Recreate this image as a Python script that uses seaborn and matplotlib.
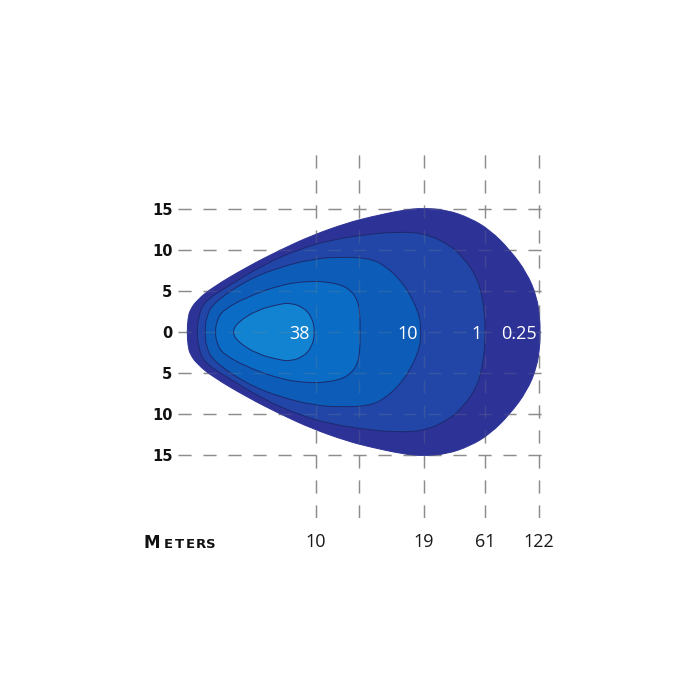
import matplotlib
matplotlib.use("Agg")
import matplotlib.pyplot as plt
from matplotlib.path import Path
from matplotlib.patches import PathPatch
import seaborn as sns

# beam contours, upper half only (the pattern is mirrored about y = 0)
# x / y, same unit on both axes
outer_x = [1.10, 1.22, 1.46, 2.32, 4.27, 8.41, 12.44, 16.46, 20.61, 23.41,
           27.44, 29.88, 32.80, 35.61, 38.05, 40.49, 42.56, 43.78, 44.15, 44.15]
outer_y = [0.0, 1.71, 2.68, 3.90, 5.49, 7.93, 10.0, 11.83, 13.29, 14.02,
           14.88, 15.12, 14.88, 13.90, 12.44, 10.0, 7.20, 4.27, 1.46, 0.0]

lux1_x = [2.32, 2.44, 3.05, 6.34, 10.37, 14.51, 18.54, 23.41, 26.71, 29.88,
          32.80, 34.76, 36.46, 37.20, 37.44, 37.44]
lux1_y = [0.0, 1.46, 3.66, 5.73, 8.17, 10.0, 11.22, 11.95, 12.20, 12.07,
          10.85, 9.15, 6.71, 3.90, 1.10, 0.0]

lux10_x = [3.29, 3.41, 4.27, 8.41, 12.44, 16.46, 19.39, 23.41, 25.49, 27.44,
           28.66, 29.51, 29.63]
lux10_y = [0.0, 1.71, 3.54, 6.34, 7.93, 8.90, 9.15, 9.02, 7.93, 5.98,
           3.90, 1.83, 0.0]

mid_x = [4.51, 4.76, 5.49, 8.41, 12.44, 15.73, 18.54, 20.61, 21.83, 22.20, 22.20]
mid_y = [0.0, 1.46, 2.68, 4.27, 5.73, 6.22, 6.10, 5.49, 4.15, 2.32, 0.0]

lux38_x = [6.59, 7.32, 9.63, 12.44, 13.66, 15.24, 16.34, 16.71]
lux38_y = [0.0, 1.22, 2.68, 3.41, 3.54, 3.05, 1.83, 0.0]

band_colors = ["#2d3296", "#2146a8", "#0c5cb8", "#0a6cc4", "#1283d0"]

zone_labels = ["38", "10", "1", "0.25"]
zone_label_x = [14.76, 28.05, 36.46, 41.59]

y_ticks = [15, 10, 5, 0, -5, -10, -15]
y_ticklabels = ["15", "10", "5", "0", "5", "10", "15"]
x_ticks = [16.83, 22.07, 30.0, 37.44, 44.02]
x_ticklabels = ["10", "", "19", "61", "122"]


def smooth_shape(xs, ys):
    # mirror the upper half, then run quadratic curves through the readings
    pts = list(zip(xs, ys)) + [(x, -y) for x, y in zip(xs[-2:0:-1], ys[-2:0:-1])]
    n = len(pts)
    mids = [((pts[i][0] + pts[(i + 1) % n][0]) / 2,
             (pts[i][1] + pts[(i + 1) % n][1]) / 2) for i in range(n)]
    verts = [mids[0]]
    codes = [Path.MOVETO]
    for i in range(1, n + 1):
        verts += [pts[i % n], mids[i % n]]
        codes += [Path.CURVE3, Path.CURVE3]
    return Path(verts, codes)


sns.set_style("white")
fig = plt.figure(figsize=(7, 7), dpi=100)
ax = fig.add_axes([178 / 700, 182 / 700, 374 / 700, 370 / 700])
ax.set_xlim(0, 45.61)
ax.set_ylim(-22.68, 22.44)

grid_kw = dict(color="#8c8c8c", lw=1.0, dashes=(9.4, 8.6))
for yv in y_ticks:
    ax.axhline(yv, zorder=1, **grid_kw)
for xv in x_ticks:
    ax.axvline(xv, zorder=1, **grid_kw)

shapes = [(outer_x, outer_y), (lux1_x, lux1_y), (lux10_x, lux10_y),
          (mid_x, mid_y), (lux38_x, lux38_y)]
for i, (xs, ys) in enumerate(shapes):
    edge = band_colors[i] if i == 0 else "#1c2a6e"
    ax.add_patch(PathPatch(smooth_shape(xs, ys), facecolor=band_colors[i],
                           edgecolor=edge, lw=0.7, zorder=2 + i * 0.1))

# faint grid showing through the beam
for yv in y_ticks:
    ax.axhline(yv, zorder=3, alpha=0.22, **grid_kw)
for xv in x_ticks:
    ax.axvline(xv, zorder=3, alpha=0.22, **grid_kw)

for lab, xv in zip(zone_labels, zone_label_x):
    ax.text(xv, -0.2, lab, color="white", ha="center", va="center",
            fontsize=13, family="Open Sans", zorder=4)

ax.set_yticks(y_ticks)
ax.set_yticklabels(y_ticklabels, fontsize=10.5, fontweight="bold",
                   family="DejaVu Sans")
ax.set_xticks(x_ticks)
ax.set_xticklabels(x_ticklabels, fontsize=13, family="Open Sans", color="#1a1a1a")
ax.tick_params(axis="y", length=0, pad=4, colors="#111111")
ax.tick_params(axis="x", length=0, pad=11)
sns.despine(ax=ax, left=True, bottom=True)

# "METERS" in small caps
letters = ["M", "E", "T", "E", "R", "S"]
letter_px = [152, 168, 179, 190, 201, 211]
letter_size = [12, 9.5, 9.5, 9.5, 9.5, 9.5]
for ch, px, fs in zip(letters, letter_px, letter_size):
    fig.text(px / 700, 1 - 548 / 700, ch, ha="center", va="baseline",
             fontsize=fs, fontweight="bold", family="DejaVu Sans", color="#111111")

fig.savefig("out.png", dpi=100)
